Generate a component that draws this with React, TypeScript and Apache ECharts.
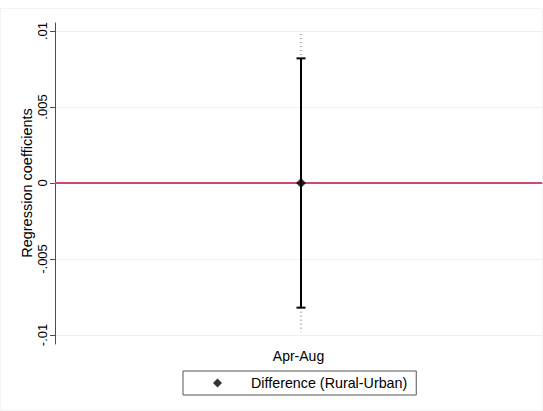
import React, { useEffect, useRef } from "react";
import * as echarts from "echarts";

const categories = ["Apr-Aug"];
const coefficients = [0];
const ci95Lower = [-0.0082];
const ci95Upper = [0.0082];
const ciWideLower = [-0.0098];
const ciWideUpper = [0.0098];
const yTicks = [-0.01, -0.005, 0, 0.005, 0.01];
const yTickLabels = ["-.01", "-.005", "0", ".005", ".01"];
const seriesName = "Difference (Rural-Urban)";

const FONT = "Liberation Sans, Arial, sans-serif";

export default function App() {
  const ref = useRef<HTMLDivElement>(null);
  useEffect(() => {
    if (!ref.current) return;
    const chart = echarts.init(ref.current, null, { renderer: "svg" });
    const labelMap: Record<string, string> = {};
    yTicks.forEach((v, i) => (labelMap[v.toFixed(3)] = yTickLabels[i]));

    const errData = categories.map((c, i) => [
      i,
      ci95Lower[i],
      ci95Upper[i],
      ciWideLower[i],
      ciWideUpper[i],
    ]);

    const gridLeft = 55;
    const gridRight = 1;

    chart.setOption({
      animation: false,
      backgroundColor: "#ffffff",
      textStyle: { fontFamily: FONT },
      graphic: [
        {
          type: "rect",
          shape: { x: 0.5, y: 8.5, width: 542, height: 402 },
          style: { fill: "none", stroke: "#f3f3f3", lineWidth: 1 },
          silent: true,
          z: -1,
        },
      ],
      grid: [
        { left: gridLeft, right: gridRight, top: 23, bottom: 411 - 344 },
        { left: gridLeft, right: gridRight, top: 31, bottom: 411 - 335 },
      ],
      xAxis: [
        {
          type: "category",
          gridIndex: 0,
          data: categories,
          boundaryGap: true,
          axisLine: { show: true, lineStyle: { color: "#4d4d4d", width: 1 } },
          axisTick: { show: false },
          axisLabel: {
            color: "#000",
            fontSize: 14,
            fontFamily: FONT,
            margin: 5,
          },
          splitLine: { show: false },
        },
        {
          type: "category",
          gridIndex: 1,
          data: categories,
          boundaryGap: true,
          show: false,
        },
      ],
      yAxis: [
        {
          type: "value",
          gridIndex: 0,
          min: -0.0105,
          max: 0.0105,
          axisLine: { show: true, lineStyle: { color: "#4d4d4d", width: 1 } },
          axisTick: { show: false },
          axisLabel: { show: false },
          splitLine: { show: false },
        },
        {
          type: "value",
          gridIndex: 1,
          min: -0.01,
          max: 0.01,
          interval: 0.005,
          name: "Regression coefficients",
          nameLocation: "middle",
          nameGap: 21,
          nameMoveOverlap: false,
          nameTextStyle: { color: "#000", fontSize: 14.5, fontFamily: FONT },
          axisLine: { show: false },
          axisTick: {
            show: true,
            length: 5,
            lineStyle: { color: "#4d4d4d", width: 1 },
          },
          axisLabel: {
            rotate: 90,
            color: "#000",
            fontSize: 13,
            fontFamily: FONT,
            margin: 6,
            formatter: (v: number) => labelMap[v.toFixed(3)] ?? String(v),
          },
          splitLine: {
            show: true,
            lineStyle: { color: "#eaf2f3", width: 1 },
          },
        },
      ],
      legend: {
        left: 183,
        top: 371,
        data: [seriesName],
        icon: "diamond",
        itemWidth: 9,
        itemHeight: 9,
        padding: [5, 9, 5, 30],
        borderColor: "#555",
        borderWidth: 1,
        borderRadius: 0,
        textStyle: {
          color: "#000",
          fontSize: 14.3,
          fontFamily: FONT,
          padding: [0, 0, 0, 24],
        },
      },
      series: [
        {
          type: "custom",
          name: "ci",
          xAxisIndex: 1,
          yAxisIndex: 1,
          clip: false,
          z: 3,
          data: errData,
          renderItem: (params: any, api: any) => {
            const x = api.value(0);
            const lo = api.coord([x, api.value(1)]);
            const hi = api.coord([x, api.value(2)]);
            const lo2 = api.coord([x, api.value(3)]);
            const hi2 = api.coord([x, api.value(4)]);
            const cx = hi[0] + 2.5;
            const capW = 4.5;
            const solid = { stroke: "#000", lineWidth: 2, fill: "none" };
            const dotted = {
              stroke: "#555",
              lineWidth: 1,
              lineDash: [1, 3],
              fill: "none",
            };
            return {
              type: "group",
              children: [
                {
                  type: "line",
                  shape: { x1: cx, y1: hi2[1], x2: cx, y2: hi[1] },
                  style: dotted,
                },
                {
                  type: "line",
                  shape: { x1: cx, y1: lo[1], x2: cx, y2: lo2[1] },
                  style: dotted,
                },
                {
                  type: "line",
                  shape: { x1: cx, y1: hi[1], x2: cx, y2: lo[1] },
                  style: solid,
                },
                {
                  type: "line",
                  shape: { x1: cx - capW, y1: hi[1], x2: cx + capW, y2: hi[1] },
                  style: solid,
                },
                {
                  type: "line",
                  shape: { x1: cx - capW, y1: lo[1], x2: cx + capW, y2: lo[1] },
                  style: solid,
                },
              ],
            };
          },
        },
        {
          type: "scatter",
          name: seriesName,
          xAxisIndex: 1,
          yAxisIndex: 1,
          symbol: "diamond",
          symbolSize: 10,
          symbolOffset: [2.5, 0],
          itemStyle: { color: "#000" },
          z: 4,
          data: categories.map((c, i) => [i, coefficients[i]]),
          markLine: {
            silent: true,
            symbol: "none",
            label: { show: false },
            lineStyle: { color: "#d04a6c", width: 2, type: "solid" },
            data: [{ yAxis: 0 }],
            z: 2,
          },
        },
      ],
    });
    return () => chart.dispose();
  }, []);
  return (
    <div
      ref={ref}
      style={{ position: "absolute", left: 0, top: 0, width: 543, height: 411 }}
    />
  );
}
